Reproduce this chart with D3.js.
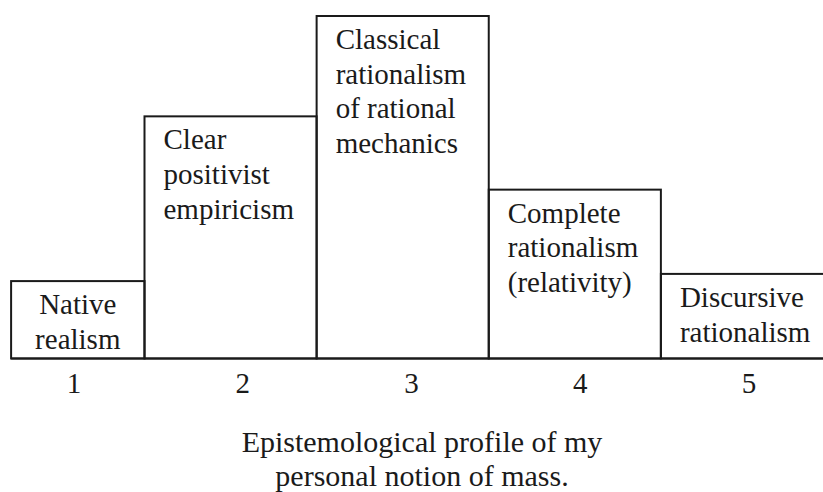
<!DOCTYPE html>
<html>
<head>
  <meta charset="utf-8">
  <script src="https://cdn.jsdelivr.net/npm/d3@7/dist/d3.min.js"></script>
  <style>
    body { margin: 0; background: #fff; }
    text { font-family: "Liberation Serif", "DejaVu Serif", serif; fill: #1a1a1a; }
    rect.bar { fill: none; stroke: #1a1a1a; stroke-width: 2px; }
  </style>
</head>
<body>
  <svg id="chart" width="823" height="492"></svg>
  <script>
    // profile data
    var categories = ['1', '2', '3', '4', '5'];
    var binStart = [0.225, 1, 2, 3, 4];   // first bin is narrower
    var binEnd = [1, 2, 3, 4, 5];
    var values = [2.26, 7.07, 10, 4.93, 2.47];
    var barLabels = [
      ['Native', 'realism'],
      ['Clear', 'positivist', 'empiricism'],
      ['Classical', 'rationalism', 'of rational', 'mechanics'],
      ['Complete', 'rationalism', '(relativity)'],
      ['Discursive', 'rationalism']
    ];
    var titleLines = ['Epistemological profile of my', 'personal notion of mass.'];

    var svg = d3.select('#chart');
    var baseline = 358.5;

    var x = d3.scaleLinear().domain([1, 5]).range([144.5, 833]);
    var y = d3.scaleLinear().domain([0, 10]).range([baseline, 16]);
    // tick labels sit on their own evenly spaced positions
    var xt = d3.scalePoint().domain(categories).range([74, 749]);

    var data = categories.map((c, i) => ({
      cat: c, x0: binStart[i], x1: binEnd[i], v: values[i], lines: barLabels[i], center: i == 0
    }));

    var g = svg.selectAll('g.bin')
      .data(data)
      .enter()
      .append('g')
      .attr('class', 'bin');

    g.append('rect')
      .attr('class', 'bar')
      .attr('x', d => x(d.x0))
      .attr('y', d => y(d.v))
      .attr('width', d => x(d.x1) - x(d.x0))
      .attr('height', d => baseline - y(d.v));

    g.append('text')
      .attr('text-anchor', d => d.center ? 'middle' : 'start')
      .style('font-size', '29px')
      .selectAll('tspan')
      .data(d => d.lines.map((l, j) => ({ l: l, j: j, d: d })))
      .enter()
      .append('tspan')
      .attr('x', t => t.d.center ? (x(t.d.x0) + x(t.d.x1)) / 2 : x(t.d.x0) + 19)
      .attr('y', t => y(t.d.v) + 33 + t.j * 34.6)
      .text(t => t.l);

    // baseline line across
    svg.append('line')
      .attr('x1', x(binStart[0]))
      .attr('x2', x(5))
      .attr('y1', baseline)
      .attr('y2', baseline)
      .style('stroke', '#1a1a1a')
      .style('stroke-width', '2px');

    svg.selectAll('text.tick')
      .data(categories)
      .enter()
      .append('text')
      .attr('class', 'tick')
      .attr('x', d => xt(d))
      .attr('y', 393)
      .attr('text-anchor', 'middle')
      .style('font-size', '29px')
      .text(d => d);

    svg.selectAll('text.title')
      .data(titleLines)
      .enter()
      .append('text')
      .attr('class', 'title')
      .attr('x', 422)
      .attr('y', (d, i) => 451.5 + i * 34.5)
      .attr('text-anchor', 'middle')
      .style('font-size', '30px')
      .text(d => d);
  </script>
</body>
</html>
